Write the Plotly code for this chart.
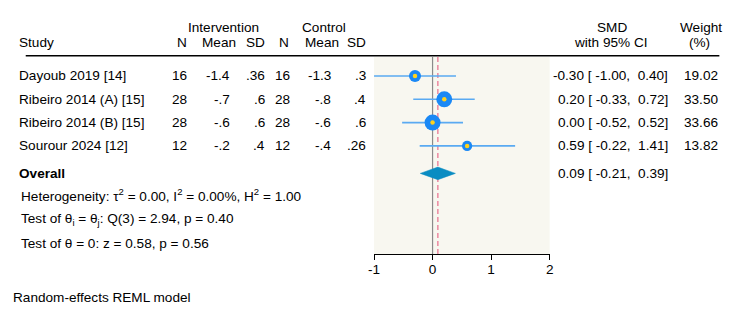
import plotly.graph_objects as go

# ---- data ----
studies = ["Dayoub 2019 [14]", "Ribeiro 2014 (A) [15]", "Ribeiro 2014 (B) [15]", "Sourour 2024 [12]"]
int_n = ["16", "28", "28", "12"]
int_mean = ["-1.4", "-.7", "-.6", "-.2"]
int_sd = [".36", ".6", ".6", ".4"]
ctl_n = ["16", "28", "28", "12"]
ctl_mean = ["-1.3", "-.8", "-.6", "-.4"]
ctl_sd = [".3", ".4", ".6", ".26"]
smd = [-0.30, 0.20, 0.00, 0.59]
ci_lo = [-1.00, -0.33, -0.52, -0.22]
ci_hi = [0.40, 0.72, 0.52, 1.41]
weights = [19.02, 33.50, 33.66, 13.82]
overall = 0.09
overall_lo = -0.21
overall_hi = 0.39
x_ticks = [-1, 0, 1, 2]

W, H = 750, 315
FONT = "Liberation Sans, Arial, Helvetica, sans-serif"
FS = 13.6
rows = list(range(len(studies)))
overall_row = 4.18

def px(x):
    return x / W

def py(y):
    return 1 - y / H

fig = go.Figure()

# CI lines
for i in rows:
    fig.add_trace(go.Scatter(x=[ci_lo[i], ci_hi[i]], y=[i, i], mode="lines",
                             line=dict(color="#5AAAF2", width=1.6), hoverinfo="skip", showlegend=False))
# weight markers
sizes = [2.75 * (w ** 0.5) for w in weights]
fig.add_trace(go.Scatter(x=smd, y=rows, mode="markers",
                         marker=dict(size=sizes, color="#1A88F5", opacity=1, line=dict(width=0)),
                         opacity=1, hoverinfo="skip", showlegend=False))
fig.add_trace(go.Scatter(x=smd, y=rows, mode="markers",
                         marker=dict(size=4.5, color="#FFD21E", opacity=1, line=dict(width=0)),
                         opacity=1, hoverinfo="skip", showlegend=False))
# overall diamond
hh = 0.27
fig.add_trace(go.Scatter(x=[overall_lo, overall, overall_hi, overall, overall_lo],
                         y=[overall_row, overall_row - hh, overall_row, overall_row + hh, overall_row],
                         mode="lines", fill="toself", fillcolor="#0A8CC2",
                         line=dict(color="#0A8CC2", width=0.5), hoverinfo="skip", showlegend=False))

y_top = -0.815
y_bot = 7.64
# vertical reference lines
fig.add_shape(type="line", xref="x", yref="y", x0=0, x1=0, y0=y_top, y1=y_bot,
              line=dict(color="#8A8A8A", width=1.2), layer="below")
fig.add_shape(type="line", xref="x", yref="y", x0=overall, x1=overall, y0=y_top, y1=y_bot,
              line=dict(color="#EC8FA4", width=1.6, dash="5px,3px"), layer="below")
# header rule
fig.add_shape(type="line", xref="paper", yref="paper", x0=px(20), x1=px(723), y0=py(55.7), y1=py(55.7),
              line=dict(color="black", width=1.5))

ann = []

def add_text(x, y, text, xanchor="left", yref="paper", bold=False):
    ann.append(dict(x=px(x), y=(py(y) if yref == "paper" else y), xref="paper", yref=yref,
                    text=("<b>%s</b>" % text if bold else text), showarrow=False,
                    xanchor=xanchor, yanchor="middle", borderpad=0, borderwidth=0,
                    font=dict(family=FONT, size=FS, color="black")))

LX = -7  # left text correction
NB = "\u00a0"

def ci_text(e, lo, hi):
    return "%.2f%s[%s%.2f,%s%s%.2f]" % (e, NB, NB, lo, NB, NB, hi)

# headers
add_text(220, 27, "Intervention", "center")
add_text(322, 27, "Control", "center")
add_text(20 + LX, 43, "Study")
for xr, t in [(183, "N"), (233, "Mean"), (263, "SD"), (287, "N"), (337, "Mean"), (365, "SD")]:
    add_text(xr, 43, t, "right")
add_text(614, 27, "SMD", "center")
add_text(613, 43, "with 95% CI", "center")
add_text(704, 27, "Weight", "center")
add_text(703, 43, "(%)", "center")

# table rows
for i in rows:
    add_text(20 + LX, i, studies[i], yref="y")
    add_text(183, i, int_n[i], "right", yref="y")
    add_text(227, i, int_mean[i], "right", yref="y")
    add_text(262, i, int_sd[i], "right", yref="y")
    add_text(288, i, ctl_n[i], "right", yref="y")
    add_text(329, i, ctl_mean[i], "right", yref="y")
    add_text(365, i, ctl_sd[i], "right", yref="y")
    add_text(671, i, ci_text(smd[i], ci_lo[i], ci_hi[i]), "right", yref="y")
    add_text(722, i, "%.2f" % weights[i], "right", yref="y")

add_text(20 + LX, overall_row, "Overall", yref="y", bold=True)
add_text(671, overall_row, ci_text(overall, overall_lo, overall_hi), "right", yref="y")

add_text(22 + LX, 195, "Heterogeneity: τ<sup>2</sup> = 0.00, I<sup>2</sup> = 0.00%, H<sup>2</sup> = 1.00")
add_text(22 + LX, 219, "Test of θ<sub>i</sub> = θ<sub>j</sub>: Q(3) = 2.94, p = 0.40")
add_text(22 + LX, 243, "Test of θ = 0: z = 0.58, p = 0.56")
add_text(14 + LX, 297, "Random-effects REML model")

fig.update_layout(
    width=W, height=H, margin=dict(l=0, r=0, t=0, b=0),
    paper_bgcolor="white", plot_bgcolor="#F8F7F0",
    annotations=ann, showlegend=False,
    font=dict(family=FONT, size=FS, color="black"),
    xaxis=dict(domain=[px(373), px(551)], range=[-1, 2], tickvals=x_ticks,
               ticktext=[str(t) for t in x_ticks], showgrid=False, zeroline=False,
               showline=True, linecolor="black", linewidth=1, ticks="outside",
               ticklen=5, tickcolor="black", tickfont=dict(family=FONT, size=FS, color="black"),
               ticklabelstandoff=-2, fixedrange=True),
    yaxis=dict(domain=[py(254), py(57)], range=[y_bot, y_top], visible=False,
               showgrid=False, zeroline=False, fixedrange=True),
)

fig.write_html("out.html")
